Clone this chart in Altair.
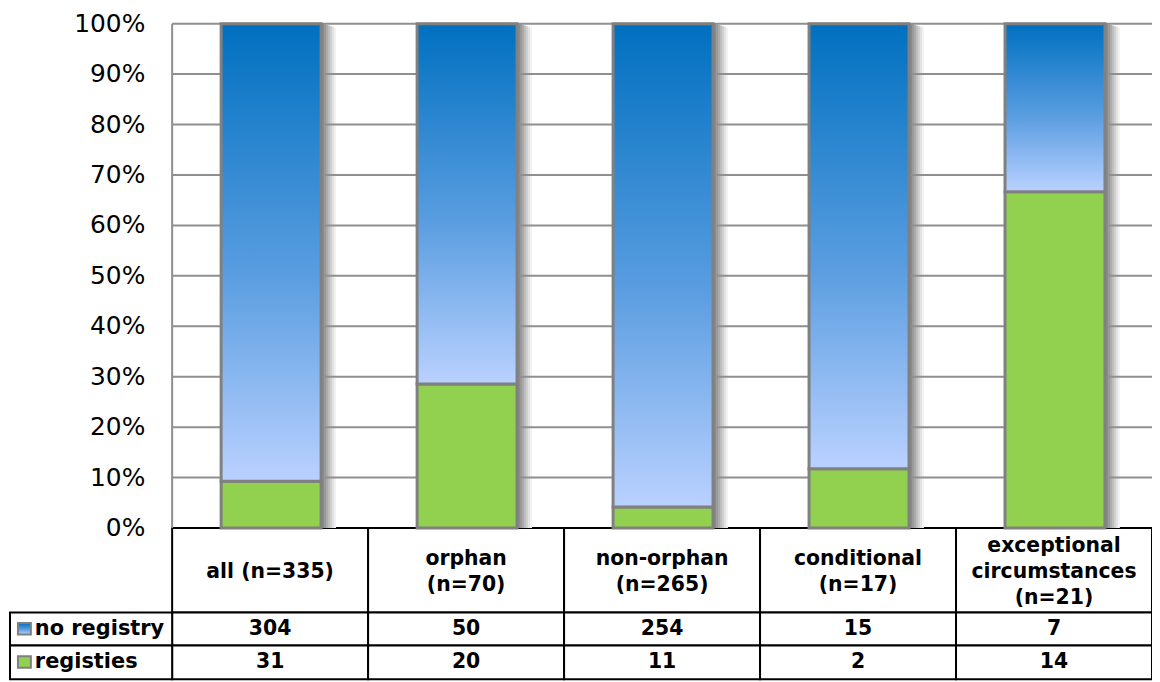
import altair as alt
import pandas as pd

# ---------------- data ----------------
categories = [
    "all (n=335)",
    "orphan\n(n=70)",
    "non-orphan\n(n=265)",
    "conditional\n(n=17)",
    "exceptional\ncircumstances\n(n=21)",
]
no_registry = [304, 50, 254, 15, 7]
registries = [31, 20, 11, 2, 14]
series_names = ["no registry", "registies"]
tick_values = [0, 10, 20, 30, 40, 50, 60, 70, 80, 90, 100]
tick_labels = ["0%", "10%", "20%", "30%", "40%", "50%", "60%", "70%", "80%", "90%", "100%"]

# ---------------- layout (pixels -> data units) ----------------
PX = 197.0          # px per category column
PY = 5.07           # px per percent
X_LEFT = -163.0 / PX
Y_BOTTOM = -152.0 / PY
HEAD_BOT = -85.0 / PY
ROW1_BOT = -118.0 / PY
ROW2_BOT = Y_BOTTOM
BAR_L, BAR_R = 0.25, 0.76
LINE_H = 26
# shadow shades, darkest (closest to the bar) first
SHADOW_SHADES = ["#8a8a8a", "#9a9a9a", "#ababab", "#bebebe", "#d0d0d0", "#e2e2e2", "#f2f2f2"]
SHADOW_STEP = 2.0   # px per shade

xs = alt.Scale(domain=[X_LEFT, 5], nice=False, zero=False)
ys = alt.Scale(domain=[Y_BOTTOM, 100], nice=False, zero=False)


def X(f):
    return alt.X(f, type="quantitative", scale=xs, axis=None)


def X2(f):
    return alt.X2(f)


def Y(f):
    return alt.Y(f, type="quantitative", scale=ys, axis=None)


def Y2(f):
    return alt.Y2(f)


BLUE_GRAD = alt.Gradient(
    gradient="linear",
    stops=[alt.GradientStop(color="#0070C0", offset=0),
           alt.GradientStop(color="#5A9DE0", offset=0.55),
           alt.GradientStop(color="#BAD1FF", offset=1)],
    x1=0, x2=0, y1=0, y2=1,
)
GREEN = "#92D050"

# ---------------- frames ----------------
green_rows, blue_rows, shadow_rows = [], [], []
for i, (nr, r) in enumerate(zip(no_registry, registries)):
    p = r / (nr + r) * 100
    green_rows.append(dict(x=i + BAR_L, x2=i + BAR_R, y=0, y2=p))
    blue_rows.append(dict(x=i + BAR_L, x2=i + BAR_R, y=p, y2=100))
# overlapping shadow bands: widest / lightest drawn first
for k in reversed(range(len(SHADOW_SHADES))):
    for i in range(len(categories)):
        x0 = i + BAR_R + 1.0 / PX
        shadow_rows.append(dict(x=x0, x2=x0 + (k + 1) * SHADOW_STEP / PX,
                                y=0, y2=100 - 0.6 * k / PY, shade=SHADOW_SHADES[k]))
green_df = pd.DataFrame(green_rows)
blue_df = pd.DataFrame(blue_rows)
shadow_df = pd.DataFrame(shadow_rows)

grid_df = pd.DataFrame({"y": tick_values[1:], "x": 0, "x2": 5})
ticklab_df = pd.DataFrame({"y": tick_values, "label": tick_labels, "x": -27 / PX})

cells = []
for i in range(5):
    cells.append(dict(x=i, x2=i + 1, y=HEAD_BOT, y2=0))
    cells.append(dict(x=i, x2=i + 1, y=ROW1_BOT, y2=HEAD_BOT))
    cells.append(dict(x=i, x2=i + 1, y=ROW2_BOT, y2=ROW1_BOT))
cells.append(dict(x=X_LEFT, x2=0, y=ROW1_BOT, y2=HEAD_BOT))
cells.append(dict(x=X_LEFT, x2=0, y=ROW2_BOT, y2=ROW1_BOT))
cells_df = pd.DataFrame(cells)

row_y = [(HEAD_BOT + ROW1_BOT) / 2, (ROW1_BOT + ROW2_BOT) / 2]
head_center = HEAD_BOT / 2 - 1.5 / PY
head_df = pd.DataFrame({
    "x": [i + 0.5 for i in range(5)],
    "y": [head_center + (c.count("\n")) / 2 * LINE_H / PY for c in categories],
    "label": categories,
})
vals_rows = []
for i in range(5):
    vals_rows.append(dict(x=i + 0.5, y=row_y[0], label=str(no_registry[i])))
    vals_rows.append(dict(x=i + 0.5, y=row_y[1], label=str(registries[i])))
vals_df = pd.DataFrame(vals_rows)
rowlab_df = pd.DataFrame({"x": X_LEFT + 25 / PX, "y": row_y, "label": series_names})


def key_df(k):
    return pd.DataFrame([dict(x=X_LEFT + 8 / PX, x2=X_LEFT + 21 / PX,
                              y=row_y[k] - 5.5 / PY, y2=row_y[k] + 6 / PY)])


axis_df = pd.DataFrame([dict(x=0, y=0, y2=100)])

# ---------------- layers ----------------
table = alt.Chart(cells_df).mark_rect(fill="white", stroke="black", strokeWidth=2).encode(
    x=X("x"), x2=X2("x2"), y=Y("y"), y2=Y2("y2"))

shadows = alt.Chart(shadow_df).mark_rect(strokeWidth=0).encode(
    x=X("x"), x2=X2("x2"), y=Y("y"), y2=Y2("y2"),
    fill=alt.Fill("shade:N", scale=None, legend=None))

grid = alt.Chart(grid_df).mark_rule(color="#8f8f8f", strokeWidth=2).encode(
    x=X("x"), x2=X2("x2"), y=Y("y"))

axis_line = alt.Chart(axis_df).mark_rule(color="#8f8f8f", strokeWidth=2).encode(
    x=X("x"), y=Y("y"), y2=Y2("y2"))

green_bars = alt.Chart(green_df).mark_rect(color=GREEN, stroke="#808080", strokeWidth=3).encode(
    x=X("x"), x2=X2("x2"), y=Y("y"), y2=Y2("y2"))

blue_bars = alt.Chart(blue_df).mark_rect(color=BLUE_GRAD, stroke="#808080", strokeWidth=3).encode(
    x=X("x"), x2=X2("x2"), y=Y("y"), y2=Y2("y2"))

ticklabs = alt.Chart(ticklab_df).mark_text(
    align="right", baseline="middle", font="DejaVu Sans", fontSize=25, color="#000000").encode(
    x=X("x"), y=Y("y"), text="label:N")

heads = alt.Chart(head_df).mark_text(
    align="center", baseline="middle", font="DejaVu Sans", fontWeight="bold", fontSize=20.5,
    lineBreak="\n", lineHeight=LINE_H, color="#000000").encode(
    x=X("x"), y=Y("y"), text="label:N")

vals = alt.Chart(vals_df).mark_text(
    align="center", baseline="middle", font="DejaVu Sans", fontWeight="bold", fontSize=20.5,
    color="#000000").encode(x=X("x"), y=Y("y"), text="label:N")

rowlabs = alt.Chart(rowlab_df).mark_text(
    align="left", baseline="middle", font="DejaVu Sans", fontWeight="bold", fontSize=21,
    color="#000000").encode(x=X("x"), y=Y("y"), text="label:N")

key_blue = alt.Chart(key_df(0)).mark_rect(color=BLUE_GRAD, stroke="#808080", strokeWidth=2).encode(
    x=X("x"), x2=X2("x2"), y=Y("y"), y2=Y2("y2"))
key_green = alt.Chart(key_df(1)).mark_rect(color=GREEN, stroke="#808080", strokeWidth=2).encode(
    x=X("x"), x2=X2("x2"), y=Y("y"), y2=Y2("y2"))

chart = alt.layer(
    table, shadows, grid, axis_line, green_bars, blue_bars,
    ticklabs, heads, vals, rowlabs, key_blue, key_green,
).properties(
    width=1148, height=659,
    autosize=alt.AutoSizeParams(type="none"),
    padding={"left": 2, "top": 14, "right": 0, "bottom": 0},
    background="white",
).configure_view(stroke=None)

chart.save("out.html", embed_options={"renderer": "svg", "actions": False})
